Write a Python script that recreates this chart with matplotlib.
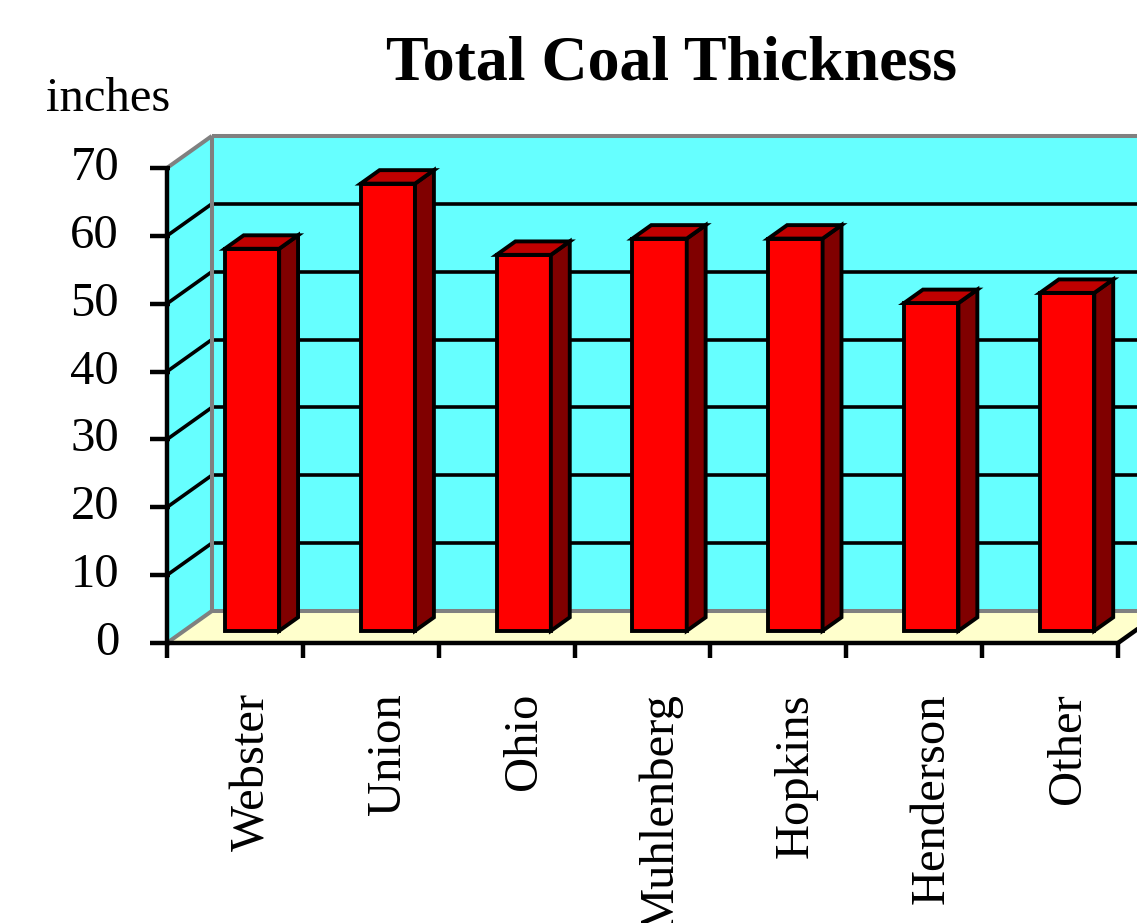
import matplotlib
matplotlib.use("Agg")
import matplotlib.pyplot as plt
from matplotlib.patches import Polygon

# data
counties = ["Webster", "Union", "Ohio", "Muhlenberg", "Hopkins", "Henderson", "Other"]
thickness = [56.3, 65.9, 55.4, 57.8, 57.8, 48.3, 49.8]
y_ticks = [0, 10, 20, 30, 40, 50, 60, 70]

WALL = "#66FFFF"
FLOOR = "#FFFFCC"
BAR_FRONT = "#FF0000"
BAR_TOP = "#C00000"
BAR_SIDE = "#800000"
EDGE_GRAY = "#808080"

YMAX = 70
N = len(counties)
# oblique depth offset (category units, value units) for the full depth
DX, DY = 0.331, 4.72
F0, F1 = 0.38, 0.80   # bar front / back depth fraction
BAR_W = 0.40

plt.rcParams["font.family"] = ["Liberation Serif", "DejaVu Serif"]

fig = plt.figure(figsize=(11.37, 9.23), dpi=100)
ax = fig.add_axes([0, 0, 1, 1])
ax.set_xlim(-1.229, 7.140)
ax.set_ylim(-41.26, 94.75)
ax.axis("off")


def proj(x, v, f):
    return (x + f * DX, v + f * DY)


def poly(pts, fc, ec="black", lw=2.8, z=1):
    ax.add_patch(Polygon(pts, closed=True, facecolor=fc, edgecolor=ec,
                         linewidth=lw, joinstyle="miter", zorder=z))


def line(p, q, color="black", lw=2.4, z=2):
    ax.plot([p[0], q[0]], [p[1], q[1]], color=color, linewidth=lw,
            solid_capstyle="butt", zorder=z)


# walls and floor
poly([proj(0, 0, 1), proj(N, 0, 1), proj(N, YMAX, 1), proj(0, YMAX, 1)], WALL, ec="none", z=1)
poly([proj(0, 0, 0), proj(0, 0, 1), proj(0, YMAX, 1), proj(0, YMAX, 0)], WALL, ec="none", z=1)
poly([proj(0, 0, 0), proj(N, 0, 0), proj(N, 0, 1), proj(0, 0, 1)], FLOOR, ec="none", z=1)

# gridlines
for v in y_ticks[1:-1]:
    line(proj(0, v, 0), proj(0, v, 1), lw=2.6)
    line(proj(0, v, 1), proj(N, v, 1), lw=2.6)

# gray wall edges
line(proj(0, YMAX, 0), proj(0, YMAX, 1), color=EDGE_GRAY, lw=2.9)
line(proj(0, YMAX, 1), proj(N, YMAX, 1), color=EDGE_GRAY, lw=2.9)
line(proj(0, 0, 1), proj(0, YMAX, 1), color=EDGE_GRAY, lw=2.9)
line(proj(0, 0, 1), proj(N, 0, 1), color=EDGE_GRAY, lw=2.9)
line(proj(0, 0, 0), proj(0, 0, 1), color=EDGE_GRAY, lw=2.9)

# front axes
line(proj(0, 0, 0), proj(0, YMAX, 0), lw=3.2, z=3)
line(proj(0, 0, 0), proj(N, 0, 0), lw=3.2, z=3)
line(proj(N, 0, 0), proj(N, 0, 1), lw=3.2, z=3)

# bars
for i, val in enumerate(thickness):
    x0 = i + 0.5 - BAR_W / 2
    x1 = i + 0.5 + BAR_W / 2
    poly([proj(x0, 0, F0), proj(x1, 0, F0), proj(x1, val, F0), proj(x0, val, F0)],
         BAR_FRONT, z=4)
    poly([proj(x1, 0, F0), proj(x1, 0, F1), proj(x1, val, F1), proj(x1, val, F0)],
         BAR_SIDE, z=4)
    poly([proj(x0, val, F0), proj(x1, val, F0), proj(x1, val, F1), proj(x0, val, F1)],
         BAR_TOP, z=4)

# y ticks and labels
for v in y_ticks:
    ax.plot([-0.125, 0.02], [v, v], color="black", linewidth=3.2,
            solid_capstyle="butt", zorder=3)
    ax.text(-0.353, v, str(v), ha="right", va="center", fontsize=35)

# x ticks and labels
for i in range(N + 1):
    ax.plot([i, i], [0, -2.2], color="black", linewidth=3.2,
            solid_capstyle="butt", zorder=3)
for i, name in enumerate(counties):
    ax.text(i + 0.5 + 0.13, -7.37, name, rotation=90, ha="center", va="top",
            fontsize=35)

ax.text(-0.89, 78.4, "inches", ha="left", va="baseline", fontsize=35)
fig.text(672 / 1137, 1 - 79 / 923, "Total Coal Thickness", ha="center",
         va="baseline", fontsize=46, fontweight="bold")

fig.savefig("out.png", dpi=100)
